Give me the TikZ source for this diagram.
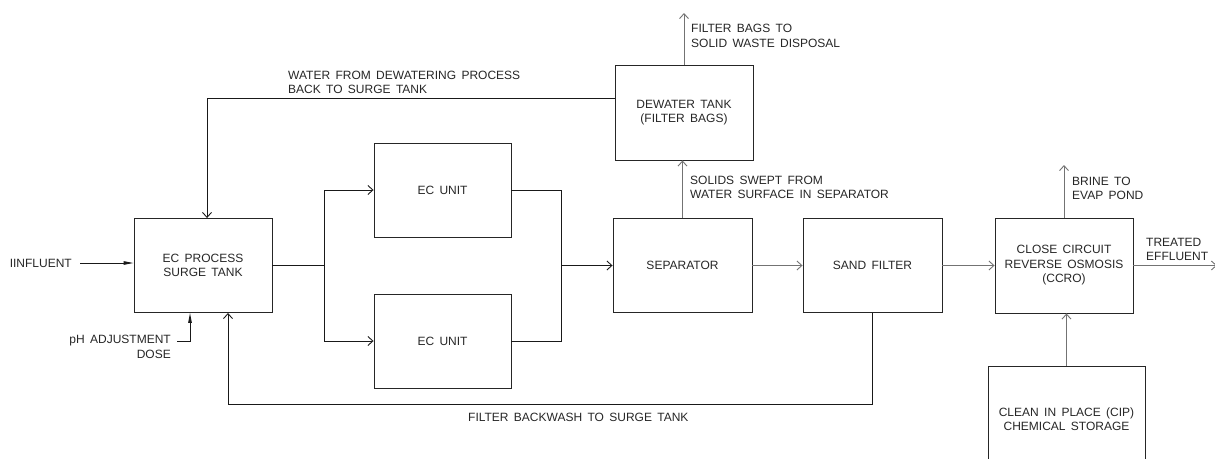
\documentclass[tikz,border=0pt]{standalone}
\usepackage{fontspec}
\setmainfont{Liberation Sans}[WordSpace=1.6]
\usetikzlibrary{arrows.meta}
\begin{document}
\begin{tikzpicture}[x=1pt,y=-1pt,
  every node/.style={font=\fontsize{12}{14.5}\selectfont, text=black!85, inner sep=0pt},
  box/.style={draw=black!85, line width=0.9pt, minimum width=138pt, minimum height=94pt, align=center},
  lbl/.style={align=left, anchor=west},
  dk/.style={draw=black!90, line width=0.9pt},
  lt/.style={draw=black!55, line width=0.9pt},
  openarrow/.style={-{Straight Barb[length=5pt,width=9pt]}},
  fillarrow/.style={-{Triangle[length=10pt,width=3.5pt]}}
]
\useasboundingbox (0,0) rectangle (1215,458);
\clip (0,0) rectangle (1215,458);

% boxes
\node[box] (surge) at (203,265.5) {EC PROCESS\\SURGE TANK};
\node[box, minimum width=137pt] (ec1) at (442.5,190) {EC UNIT};
\node[box, minimum width=137pt] (ec2) at (442.5,341) {EC UNIT};
\node[box, minimum width=139pt] (sep) at (682.5,265.5) {SEPARATOR};
\node[box, minimum width=139pt] (sand) at (872.5,265.5) {SAND FILTER};
\node[box, minimum height=95pt] (ccro) at (1064,265.5) {CLOSE CIRCUIT\\REVERSE OSMOSIS\\(CCRO)};
\node[box, minimum height=95pt] (dew) at (684,112.5) {DEWATER TANK\\(FILTER BAGS)};
\node[box, minimum width=157pt, minimum height=106pt] (cip) at (1066.5,419) {CLEAN IN PLACE (CIP)\\CHEMICAL STORAGE};

% labels
\node[anchor=east] (infl) at (72,263) {IINFLUENT};
\node[anchor=east] (ph1) at (171,341) {pH ADJUSTMENT};
\node[anchor=east] (ph2) at (171,354) {DOSE};
\node[lbl] (retlbl) at (288,82.5) {WATER FROM DEWATERING PROCESS\\BACK TO SURGE TANK};
\node[lbl] (fblbl) at (691,36) {FILTER BAGS TO\\SOLID WASTE DISPOSAL};
\node[lbl] (sollbl) at (690,187.5) {SOLIDS SWEPT FROM\\WATER SURFACE IN SEPARATOR};
\node[lbl] (brlbl) at (1072,188.5) {BRINE TO\\EVAP POND};
\node[lbl] (trlbl) at (1146,249.5) {TREATED\\EFFLUENT};
\node[lbl] (bwlbl) at (468,417) {FILTER BACKWASH TO SURGE TANK};

% coordinates
\coordinate (split) at (324,265.5);
\coordinate (merge) at (561,265.5);
\coordinate (out) at (1217,265.5);
\coordinate (fbtop) at (684,13);
\coordinate (brtop) at (1064,165);
\coordinate (bw) at (872.5,404);

% connectors
\draw[dk, fillarrow] ([xshift=8pt]infl.east) -- (surge.west |- infl.east);
\draw[dk, fillarrow] ([xshift=6pt]ph1.east) -| ([xshift=-13pt]surge.south);
\draw[dk] (surge.east) -- (split);
\draw[dk, openarrow] (split) |- (ec1.west);
\draw[dk, openarrow] (split) |- (ec2.west);
\draw[dk] (ec1.east) -| (merge);
\draw[dk] (ec2.east) -| (merge);
\draw[dk, openarrow] (merge) -- (sep.west);
\draw[lt, openarrow] (sep.east) -- (sand.west);
\draw[lt, openarrow] (sand.east) -- (ccro.west);
\draw[lt, openarrow] (ccro.east) -- (out);
\draw[lt, openarrow] (sep.north) -- (sep.north |- dew.south);
\draw[lt, openarrow] (dew.north) -- (fbtop);
\draw[dk, openarrow] ([yshift=14.5pt]dew.west) -| ([xshift=4pt]surge.north);
\draw[dk, openarrow] (sand.south) -- (bw) -| ([xshift=25pt]surge.south);
\draw[lt, openarrow] (ccro.north) -- (brtop);
\draw[lt, openarrow] (cip.north) -- (cip.north |- ccro.south);
\end{tikzpicture}
\end{document}
